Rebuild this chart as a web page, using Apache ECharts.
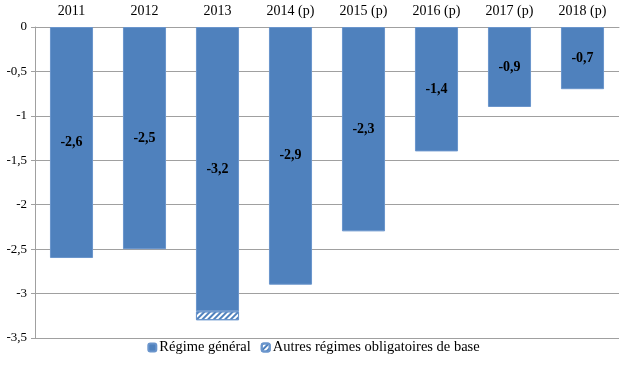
<!DOCTYPE html>
<html><head><meta charset="utf-8">
<script src="https://cdn.jsdelivr.net/npm/echarts@6/dist/echarts.min.js"></script>
<style>html,body{margin:0;padding:0;background:#fff}#c{width:627px;height:370px}</style>
</head><body><div id="c"></div>
<script>
var categories = ['2011','2012','2013','2014 (p)','2015 (p)','2016 (p)','2017 (p)','2018 (p)'];
var regimeGeneral = [-2.6,-2.5,-3.2,-2.9,-2.3,-1.4,-0.9,-0.7];
var autresRegimes = [null,null,-0.1,null,null,null,null,null];
var yTicks = {min:-3.5, max:0, interval:0.5};
var FONT = 'Liberation Serif';
function fr(v){ return String(v).replace('.', ','); }
var chart = echarts.init(document.getElementById('c'));
chart.setOption({
  animation:false,
  textStyle:{fontFamily:FONT},
  grid:{left:35,right:8,top:27,bottom:32,containLabel:false},
  legend:{bottom:10,left:'center',itemWidth:8,itemHeight:8,itemGap:10,
    textStyle:{fontFamily:FONT,fontSize:14.5,color:'#000',padding:[0,0,0,-2]},
    data:['Régime général','Autres régimes obligatoires de base']},
  xAxis:{type:'category',position:'top',data:categories,
    axisLine:{lineStyle:{color:'#a0a0a0'}},
    axisTick:{inside:true,length:5,lineStyle:{color:'#a0a0a0'}},
    axisLabel:{fontFamily:FONT,fontSize:14,color:'#000',margin:9}},
  yAxis:{type:'value',min:yTicks.min,max:yTicks.max,interval:yTicks.interval,
    axisLine:{show:true,lineStyle:{color:'#a0a0a0'}},
    axisTick:{show:true,length:4,lineStyle:{color:'#a0a0a0'}},
    splitLine:{lineStyle:{color:'#a0a0a0'}},
    axisLabel:{fontFamily:FONT,fontSize:13,color:'#000',margin:8,formatter:function(v){return fr(v);}}},
  series:[
    {name:'Régime général',type:'bar',stack:'s',data:regimeGeneral,barWidth:'59%',
     itemStyle:{color:'#4f81bd',borderColor:'#6a95cc',borderWidth:1},
     label:{show:true,position:'inside',fontFamily:FONT,fontSize:14,fontWeight:'bold',color:'#000',
       formatter:function(p){return fr(p.value);}}},
    {name:'Autres régimes obligatoires de base',type:'bar',stack:'s',data:autresRegimes,barWidth:'59%',
     itemStyle:{color:'#ffffff',borderColor:'#6a95cc',borderWidth:1,
       decal:{symbol:'rect',color:'#4f81bd',dashArrayX:[1,0],dashArrayY:[1.5,1.5],rotation:-Math.PI/4,symbolSize:1}}}
  ]
});
</script></body></html>
